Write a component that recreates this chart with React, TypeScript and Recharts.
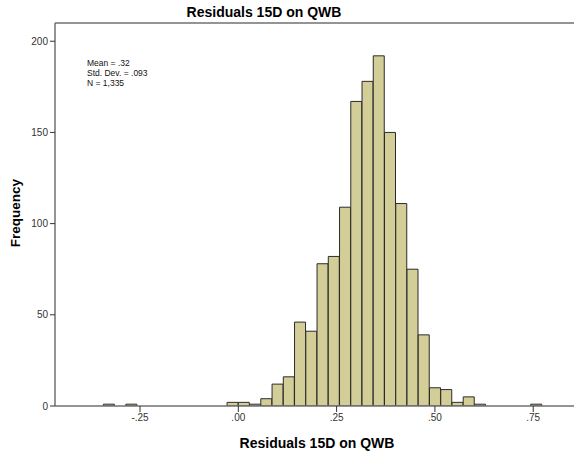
import { Bar, BarChart, ReferenceLine, XAxis, YAxis } from "recharts";

// bin centres (bin width ~ .0286) and counts
const binCenters = [
  -0.3289, -0.2717, -0.0143, 0.0143, 0.0429, 0.0715, 0.1001, 0.1287, 0.1573, 0.1859,
  0.2145, 0.2431, 0.2717, 0.3003, 0.3289, 0.3575, 0.3861, 0.4147, 0.4433, 0.4719,
  0.5005, 0.5291, 0.5577, 0.5863, 0.6149, 0.7579,
];
const counts = [
  1, 1, 2, 2, 1, 4, 12, 16, 46, 41,
  78, 82, 109, 167, 178, 192, 150, 111, 75, 39,
  10, 9, 2, 5, 1, 1,
];
const xTicks = [-0.25, 0, 0.25, 0.5, 0.75];
const yTicks = [0, 50, 100, 150, 200];
const statsLines = ["Mean = .32", "Std. Dev. = .093", "N = 1,335"];

const data = binCenters.map((x, i) => ({ x, count: counts[i] }));

const FONT = "'Liberation Sans', Arial, sans-serif";
const AXIS = "#707070";

const fmtX = (v: number) => {
  const s = Math.abs(v).toFixed(2).replace(/^0/, "");
  return v < 0 ? "-" + s : s;
};

export default function App() {
  return (
    <div style={{ position: "absolute", left: 0, top: 0, width: 574, height: 451, background: "#fff", fontFamily: FONT }}>
      <BarChart
        width={574}
        height={451}
        data={data}
        margin={{ top: 23, right: 0, left: 0, bottom: 0 }}
        barCategoryGap={0}
        barGap={0}
      >
        <XAxis
          dataKey="x"
          type="number"
          domain={[-0.4662, 0.8537]}
          ticks={xTicks}
          interval={0}
          tickFormatter={fmtX}
          height={45}
          tickSize={6}
          axisLine={{ stroke: AXIS, strokeWidth: 1.5 }}
          tickLine={{ stroke: "#333" }}
          tick={{ fill: "#333", fontSize: 10, fontFamily: FONT }}
          allowDataOverflow
        />
        <YAxis
          type="number"
          domain={[0, 210]}
          ticks={yTicks}
          interval={0}
          width={55}
          tickSize={5}
          axisLine={{ stroke: AXIS, strokeWidth: 1.5 }}
          tickLine={{ stroke: "#333" }}
          tick={{ fill: "#333", fontSize: 10, fontFamily: FONT }}
          allowDataOverflow
        />
        <ReferenceLine y={210} stroke={AXIS} strokeWidth={1.5} />
        <Bar dataKey="count" fill="#D3CE97" stroke="#2b2b2b" strokeWidth={1} isAnimationActive={false} />
      </BarChart>
      <svg width={574} height={451} style={{ position: "absolute", left: 0, top: 0, pointerEvents: "none" }}>
        <text x={264} y={17} textAnchor="middle" fontSize={14} fontWeight="bold" fontFamily={FONT} fill="#000">
          Residuals 15D on QWB
        </text>
        <text x={317} y={448} textAnchor="middle" fontSize={14} fontWeight="bold" fontFamily={FONT} fill="#000">
          Residuals 15D on QWB
        </text>
        <text
          x={19.5}
          y={213}
          textAnchor="middle"
          fontSize={13.5}
          fontWeight="bold"
          fontFamily={FONT}
          fill="#000"
          transform="rotate(-90 19.5 213)"
        >
          Frequency
        </text>
        {statsLines.map((s, i) => (
          <text key={s} x={87} y={66 + i * 10} fontSize={8.5} fontFamily={FONT} fill="#111">
            {s}
          </text>
        ))}
      </svg>
    </div>
  );
}
